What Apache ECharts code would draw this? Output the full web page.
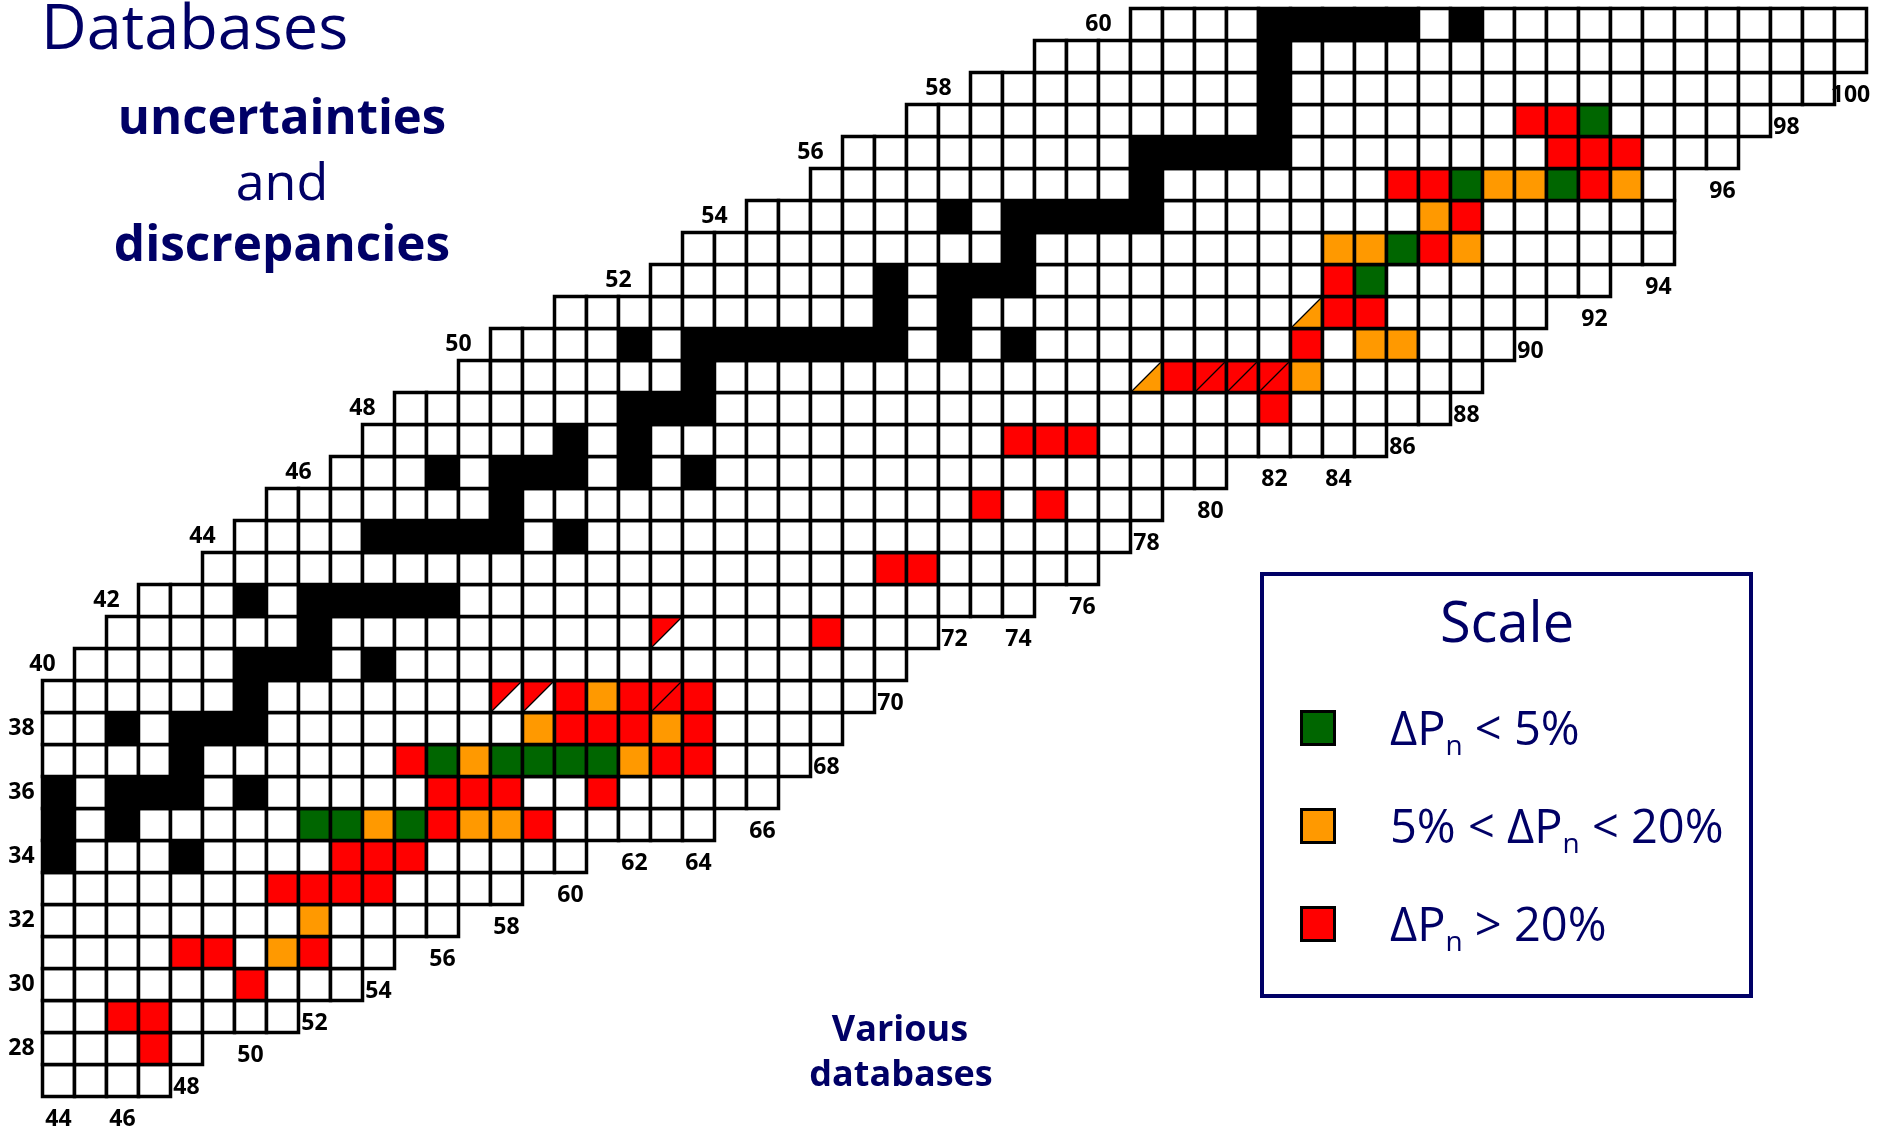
<!DOCTYPE html>
<html>
<head>
<meta charset="utf-8">
<title>Databases – uncertainties and discrepancies</title>
<script src="https://cdn.jsdelivr.net/npm/echarts@6/dist/echarts.min.js"></script>
<style>
  html, body { margin: 0; padding: 0; background: #ffffff; }
  #chart { width: 1885px; height: 1131px; }
</style>
</head>
<body>
<div id="chart"></div>
<script>
// Rows of the nuclide chart: proton number Z and the neutron range shown in each row
const rowZ    = [27, 28, 29, 30, 31, 32, 33, 34, 35, 36, 37, 38, 39, 40, 41, 42, 43,
                 44, 45, 46, 47, 48, 49, 50, 51, 52, 53, 54, 55, 56, 57, 58, 59, 60];
const rowNmin = [44, 44, 44, 44, 44, 44, 44, 44, 44, 44, 44, 44, 44, 45, 46, 47, 49,
                 50, 51, 53, 54, 55, 57, 58, 60, 63, 64, 66, 68, 69, 71, 73, 75, 78];
const rowNmax = [47, 48, 51, 53, 54, 56, 58, 60, 64, 66, 67, 68, 69, 70, 71, 74, 76,
                 77, 78, 80, 85, 87, 88, 89, 90, 92, 94, 94, 94, 96, 97, 99, 100, 100];

// Stable nuclei (black): [Z, N]
const stableNuclei = [
  [34, 44], [34, 48],
  [35, 44], [35, 46],
  [36, 44], [36, 46], [36, 47], [36, 48], [36, 50],
  [37, 48],
  [38, 46], [38, 48], [38, 49], [38, 50],
  [39, 50],
  [40, 50], [40, 51], [40, 52], [40, 54],
  [41, 52],
  [42, 50], [42, 52], [42, 53], [42, 54], [42, 55], [42, 56],
  [44, 54], [44, 55], [44, 56], [44, 57], [44, 58], [44, 60],
  [45, 58],
  [46, 56], [46, 58], [46, 59], [46, 60], [46, 62], [46, 64],
  [47, 60], [47, 62],
  [48, 62], [48, 63], [48, 64],
  [49, 64],
  [50, 62], [50, 64], [50, 65], [50, 66], [50, 67], [50, 68], [50, 69], [50, 70], [50, 72], [50, 74],
  [51, 70], [51, 72],
  [52, 70], [52, 72], [52, 73], [52, 74],
  [53, 74],
  [54, 72], [54, 74], [54, 75], [54, 76], [54, 77], [54, 78],
  [55, 78],
  [56, 78], [56, 79], [56, 80], [56, 81], [56, 82],
  [57, 82], [58, 82], [59, 82],
  [60, 82], [60, 83], [60, 84], [60, 85], [60, 86], [60, 88]
];

// Discrepancy of the delayed-neutron probability between databases: [Z, N, class]
// class 0: dPn < 5 %, 1: 5 % < dPn < 20 %, 2: dPn > 20 %
const deltaPn = [
  [28, 47, 2],
  [29, 46, 2], [29, 47, 2],
  [30, 50, 2],
  [31, 48, 2], [31, 49, 2], [31, 51, 1], [31, 52, 2],
  [32, 52, 1],
  [33, 51, 2], [33, 52, 2], [33, 53, 2], [33, 54, 2],
  [34, 53, 2], [34, 54, 2], [34, 55, 2],
  [35, 52, 0], [35, 53, 0], [35, 54, 1], [35, 55, 0], [35, 56, 2], [35, 57, 1], [35, 58, 1], [35, 59, 2],
  [36, 56, 2], [36, 57, 2], [36, 58, 2], [36, 61, 2],
  [37, 55, 2], [37, 56, 0], [37, 57, 1], [37, 58, 0], [37, 59, 0], [37, 60, 0], [37, 61, 0],
  [37, 62, 1], [37, 63, 2], [37, 64, 2],
  [38, 59, 1], [38, 60, 2], [38, 61, 2], [38, 62, 2], [38, 63, 1], [38, 64, 2],
  [39, 60, 2], [39, 61, 1], [39, 62, 2], [39, 64, 2],
  [41, 68, 2],
  [43, 70, 2], [43, 71, 2],
  [45, 73, 2], [45, 75, 2],
  [47, 74, 2], [47, 75, 2], [47, 76, 2],
  [48, 82, 2],
  [49, 79, 2], [49, 83, 1],
  [50, 83, 2], [50, 85, 1], [50, 86, 1],
  [51, 84, 2], [51, 85, 2],
  [52, 84, 2], [52, 85, 0],
  [53, 84, 1], [53, 85, 1], [53, 86, 0], [53, 87, 2], [53, 88, 1],
  [54, 87, 1], [54, 88, 2],
  [55, 86, 2], [55, 87, 2], [55, 88, 0], [55, 89, 1], [55, 90, 1], [55, 91, 0], [55, 92, 2], [55, 93, 1],
  [56, 91, 2], [56, 92, 2], [56, 93, 2],
  [57, 90, 2], [57, 91, 2], [57, 92, 0]
];

// Nuclei with two comparisons, split on the diagonal:
// [Z, N, upper-left class, lower-right class], -1 = no comparison
const splitCells = [
  [39, 58, 2, -1], [39, 59, 2, -1], [39, 63, 2, 2],
  [41, 63, 2, -1],
  [49, 78, -1, 1], [49, 80, 2, 2], [49, 81, 2, 2], [49, 82, 2, 2],
  [51, 83, -1, 1]
];

// Scale classes
const scaleLabels = ['{m|ΔP}{s|n}{m| < 5%}', '{m|5% < ΔP}{s|n}{m| < 20%}', '{m|ΔP}{s|n}{m| > 20%}'];
const scaleColors = ['#006600', '#FF9900', '#FF0000'];

// Tick labels
const zTicks = [28, 30, 32, 34, 36, 38, 40, 42, 44, 46, 48, 50, 52, 54, 56, 58, 60];
const nTicks = [44, 46, 48, 50, 52, 54, 56, 58, 60, 62, 64, 66, 68, 70, 72,
                74, 76, 78, 80, 82, 84, 86, 88, 90, 92, 94, 96, 98, 100];

// Texts
const titleText = 'Databases';
const subtitleLines = ['uncertainties', 'and', 'discrepancies'];
const noteLines = ['Various', 'databases'];
const scaleTitle = 'Scale';

const NAVY = '#000066';
const FONT = '"Open Sans", "DejaVu Sans", sans-serif';
const EMPTY = -1, STABLE = -2;

// ---- build the cell table ----
const cellIndex = new Map();
const cells = [];
rowZ.forEach((z, i) => {
  for (let n = rowNmin[i]; n <= rowNmax[i]; n++) {
    const c = [n, z, EMPTY, EMPTY, 0];
    cellIndex.set(z + ':' + n, c);
    cells.push(c);
  }
});
stableNuclei.forEach(([z, n]) => {
  const c = cellIndex.get(z + ':' + n);
  if (c) { c[2] = STABLE; c[3] = STABLE; }
});
deltaPn.forEach(([z, n, k]) => {
  const c = cellIndex.get(z + ':' + n);
  if (c) { c[2] = k; c[3] = k; }
});
splitCells.forEach(([z, n, a, b]) => {
  const c = cellIndex.get(z + ':' + n);
  if (c) { c[2] = a; c[3] = b; c[4] = 1; }
});

function fillOf(k) {
  if (k === STABLE) return '#000000';
  if (k === EMPTY) return '#ffffff';
  return scaleColors[k];
}

// ---- tick label positions derived from the chart outline ----
function nMinOfRow(z) { return rowNmin[rowZ.indexOf(z)]; }
function lowestZ(n) {
  for (let i = 0; i < rowZ.length; i++) {
    if (n >= rowNmin[i] && n <= rowNmax[i]) return rowZ[i];
  }
  return rowZ[0];
}
const zLabelData = zTicks.map(z => [Math.max(nMinOfRow(z) - 1.5, 42.84), z, z]);
const nLabelData = nTicks.map(n => [n, lowestZ(n) - 1 - 0.22, n]);

// ---- renderers ----
const GRID_LINE = 3.5;

function renderCell(params, api) {
  const n = api.value(0), z = api.value(1);
  const ul = api.value(2), lr = api.value(3), split = api.value(4);
  const tl = api.coord([n - 0.5, z + 0.5]);
  const br = api.coord([n + 0.5, z - 0.5]);
  const x = tl[0], y = tl[1], w = br[0] - tl[0], h = br[1] - tl[1];
  if (!split) {
    return {
      type: 'rect',
      shape: { x: x, y: y, width: w, height: h },
      style: { fill: fillOf(ul), stroke: '#000', lineWidth: GRID_LINE }
    };
  }
  return {
    type: 'group',
    children: [
      { type: 'polygon', shape: { points: [[x, y], [x + w, y], [x, y + h]] },
        style: { fill: fillOf(ul) } },
      { type: 'polygon', shape: { points: [[x + w, y], [x + w, y + h], [x, y + h]] },
        style: { fill: fillOf(lr) } },
      { type: 'line', shape: { x1: x, y1: y + h, x2: x + w, y2: y },
        style: { stroke: '#000', lineWidth: 1.3 } },
      { type: 'rect', shape: { x: x, y: y, width: w, height: h },
        style: { fill: null, stroke: '#000', lineWidth: GRID_LINE } }
    ]
  };
}

function renderTick(params, api) {
  const p = api.coord([api.value(0), api.value(1)]);
  return {
    type: 'text',
    x: p[0], y: p[1],
    style: {
      text: String(api.value(2)),
      fill: '#000',
      fontSize: 23, fontWeight: 'bold', fontFamily: FONT,
      align: 'center', verticalAlign: 'middle'
    }
  };
}

// ---- page texts and scale box ----
function textEl(str, x, y, size, weight, align) {
  return {
    type: 'text', x: x, y: y, z: 10,
    style: {
      text: str, fill: NAVY, fontSize: size, fontWeight: weight,
      fontFamily: FONT, align: align, verticalAlign: 'middle'
    }
  };
}

const graphics = [
  textEl(titleText, 41, 31, 63, 'normal', 'left'),
  textEl(subtitleLines[0], 282, 120, 49, 'bold', 'center'),
  textEl(subtitleLines[1], 282, 185, 52, 'normal', 'center'),
  textEl(subtitleLines[2], 282, 247, 49.5, 'bold', 'center'),
  textEl(noteLines[0], 900, 1031, 36, 'bold', 'center'),
  textEl(noteLines[1], 901, 1076, 36, 'bold', 'center'),
  {
    type: 'rect', z: 5,
    shape: { x: 1262, y: 574, width: 489, height: 422 },
    style: { fill: '#ffffff', stroke: NAVY, lineWidth: 4 }
  },
  textEl(scaleTitle, 1507, 626, 56, 'normal', 'center')
];

scaleLabels.forEach((lab, i) => {
  const cy = 728 + i * 98;
  graphics.push({
    type: 'rect', z: 10,
    shape: { x: 1301.5, y: cy - 16.5, width: 33, height: 33 },
    style: { fill: scaleColors[i], stroke: '#000', lineWidth: 3 }
  });
  graphics.push({
    type: 'text', x: 1390, y: cy + 3.5, z: 10,
    style: {
      text: lab,
      align: 'left', verticalAlign: 'middle',
      rich: {
        m: { fontSize: 47, fontFamily: FONT, fill: NAVY, lineHeight: 60, verticalAlign: 'middle' },
        s: { fontSize: 28, fontFamily: FONT, fill: NAVY, lineHeight: 28, verticalAlign: 'bottom' }
      }
    }
  });
});

// ---- chart ----
// one data unit = 32 px; the half-pixel shift keeps the cell borders crisp
const chart = echarts.init(document.getElementById('chart'), null, { renderer: 'canvas' });
chart.setOption({
  animation: false,
  backgroundColor: '#ffffff',
  grid: { left: 0, right: 0, top: 0, bottom: 0 },
  xAxis: { type: 'value', min: 42.171875, max: 101.078125, show: false },
  yAxis: { type: 'value', min: 25.421875, max: 60.765625, show: false },
  series: [
    {
      name: 'nuclides', type: 'custom', renderItem: renderCell,
      data: cells, encode: { x: 0, y: 1 }, silent: true
    },
    {
      name: 'Z', type: 'custom', renderItem: renderTick,
      data: zLabelData, encode: { x: 0, y: 1 }, silent: true
    },
    {
      name: 'N', type: 'custom', renderItem: renderTick,
      data: nLabelData, encode: { x: 0, y: 1 }, silent: true
    }
  ],
  graphic: graphics
});
</script>
</body>
</html>
